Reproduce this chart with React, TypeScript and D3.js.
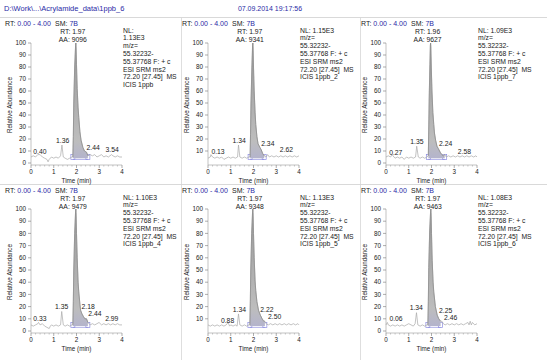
import React from "react";
import * as d3 from "d3";

const TITLE = "D:\\Work\\...\\Acrylamide_data\\1ppb_6";
const DATE = "07.09.2014 19:17:56";
const RANGE = "0.00 - 4.00";
const SMOOTH = "7B";
const X_TICKS = [0, 1, 2, 3, 4];
const Y_TICKS = [0, 10, 20, 30, 40, 50, 60, 70, 80, 90, 100];

const RT_VALUES = [1.97, 1.97, 1.96, 1.97, 1.97, 1.97];
const AREAS = ["9096", "9341", "9627", "9479", "9348", "9463"];
const NL_VALUES = ["1.13E3", "1.15E3", "1.09E3", "1.10E3", "1.13E3", "1.08E3"];
const NL_SPLIT = [true, false, false, false, false, false];
const FILES = ["ICIS 1ppb", "ICIS 1ppb_2", "ICIS 1ppb_7", "ICIS 1ppb_4", "ICIS 1ppb_5", "ICIS 1ppb_6"];
const SHOW_ZERO = [true, false, true, true, false, true];
const INT_START = [1.84, 1.85, 1.86, 1.84, 1.84, 1.84];
const INT_END = [2.5, 2.47, 2.58, 2.5, 2.5, 2.4];

const TRACE_1: [number, number][] = [
  [0, 5], [0.1, 6], [0.2, 5], [0.3, 7], [0.4, 7], [0.5, 5], [0.6, 4], [0.7, 3], [0.75, 1], [0.8, 3], [0.9, 5],
  [1.0, 4], [1.1, 5], [1.2, 4], [1.3, 6], [1.36, 15], [1.42, 5], [1.5, 4], [1.6, 3], [1.7, 4], [1.8, 5],
  [1.84, 5], [1.86, 22], [1.88, 50], [1.92, 80], [1.96, 98], [1.97, 100], [1.98, 97], [2.0, 82], [2.03, 62],
  [2.07, 46], [2.1, 38], [2.15, 26], [2.2, 19], [2.28, 13], [2.35, 10], [2.44, 9], [2.5, 6], [2.6, 7], [2.7, 6],
  [2.8, 7], [2.9, 5], [3.0, 6], [3.1, 7], [3.2, 5], [3.3, 6], [3.4, 5], [3.54, 7], [3.6, 6], [3.7, 5], [3.8, 6],
  [3.9, 5], [4.0, 5],
];
const TRACE_2: [number, number][] = [
  [0, 4], [0.1, 5], [0.13, 7], [0.2, 5], [0.3, 4], [0.4, 5], [0.5, 4], [0.6, 5], [0.7, 3], [0.8, 4], [0.9, 5],
  [1.0, 4], [1.1, 5], [1.2, 4], [1.3, 5], [1.34, 15], [1.4, 5], [1.5, 4], [1.6, 5], [1.7, 4], [1.8, 5],
  [1.85, 5], [1.87, 24], [1.89, 50], [1.93, 80], [1.96, 98], [1.97, 100], [1.98, 97], [2.0, 80], [2.03, 60],
  [2.07, 42], [2.1, 32], [2.15, 22], [2.2, 16], [2.28, 13], [2.34, 11], [2.4, 8], [2.47, 6], [2.55, 5], [2.62, 7],
  [2.7, 5], [2.8, 6], [2.9, 5], [3.0, 6], [3.1, 5], [3.2, 6], [3.3, 5], [3.4, 6], [3.5, 5], [3.6, 6], [3.7, 5],
  [3.8, 6], [3.9, 5], [4.0, 6],
];
const TRACE_3: [number, number][] = [
  [0, 5], [0.1, 6], [0.2, 5], [0.27, 7], [0.35, 5], [0.4, 4], [0.5, 5], [0.6, 4], [0.7, 5], [0.8, 3], [0.9, 5],
  [1.0, 4], [1.1, 5], [1.2, 4], [1.3, 5], [1.35, 14], [1.42, 5], [1.5, 4], [1.6, 5], [1.7, 4], [1.8, 5],
  [1.86, 6], [1.88, 30], [1.9, 55], [1.93, 82], [1.95, 98], [1.96, 100], [1.97, 97], [1.99, 80], [2.02, 60],
  [2.06, 42], [2.1, 32], [2.13, 25], [2.18, 19], [2.24, 14], [2.3, 12], [2.38, 9], [2.45, 7], [2.52, 6], [2.58, 7],
  [2.65, 5], [2.75, 6], [2.85, 5], [2.95, 6], [3.05, 5], [3.15, 6], [3.25, 5], [3.35, 6], [3.45, 5], [3.55, 6],
  [3.65, 5], [3.75, 6], [3.85, 5], [3.95, 6], [4.0, 5],
];
const TRACE_4: [number, number][] = [
  [0, 5], [0.1, 4], [0.2, 5], [0.3, 6], [0.33, 7], [0.4, 5], [0.5, 6], [0.6, 4], [0.7, 3], [0.8, 2], [0.85, 4],
  [0.9, 5], [1.0, 4], [1.1, 5], [1.2, 4], [1.3, 5], [1.35, 16], [1.42, 5], [1.5, 4], [1.6, 5], [1.7, 4], [1.8, 5],
  [1.84, 5], [1.86, 24], [1.88, 50], [1.92, 80], [1.96, 98], [1.97, 100], [1.98, 97], [2.0, 80], [2.03, 60],
  [2.07, 40], [2.1, 32], [2.15, 22], [2.18, 17], [2.24, 14], [2.3, 12], [2.37, 10], [2.44, 10], [2.5, 7], [2.6, 5],
  [2.7, 6], [2.8, 5], [2.9, 6], [2.99, 7], [3.1, 5], [3.2, 6], [3.3, 5], [3.4, 6], [3.5, 5], [3.6, 6], [3.7, 5],
  [3.8, 6], [3.9, 5], [4.0, 5],
];
const TRACE_5: [number, number][] = [
  [0, 5], [0.1, 4], [0.2, 5], [0.3, 4], [0.4, 5], [0.5, 4], [0.6, 5], [0.7, 4], [0.8, 5], [0.88, 7], [0.95, 4],
  [1.0, 5], [1.1, 4], [1.2, 5], [1.28, 4], [1.34, 14], [1.4, 5], [1.5, 4], [1.6, 5], [1.7, 4], [1.8, 5],
  [1.84, 5], [1.86, 24], [1.88, 50], [1.92, 80], [1.96, 98], [1.97, 100], [1.98, 97], [2.0, 80], [2.03, 60],
  [2.07, 41], [2.1, 33], [2.15, 24], [2.22, 17], [2.3, 13], [2.38, 10], [2.45, 8], [2.5, 8], [2.55, 6], [2.65, 5],
  [2.75, 6], [2.85, 5], [2.95, 6], [3.05, 5], [3.15, 6], [3.25, 5], [3.35, 6], [3.45, 5], [3.55, 6], [3.65, 5],
  [3.75, 6], [3.85, 5], [3.95, 6], [4.0, 5],
];
const TRACE_6: [number, number][] = [
  [0, 5], [0.06, 7], [0.1, 5], [0.2, 4], [0.3, 5], [0.4, 4], [0.5, 5], [0.6, 4], [0.7, 5], [0.8, 4], [0.9, 5],
  [1.0, 6], [1.1, 5], [1.2, 4], [1.28, 6], [1.34, 15], [1.4, 5], [1.5, 4], [1.6, 5], [1.7, 4], [1.8, 5],
  [1.84, 5], [1.86, 24], [1.88, 52], [1.92, 82], [1.96, 98], [1.97, 100], [1.98, 97], [2.0, 80], [2.03, 58],
  [2.07, 40], [2.1, 32], [2.17, 20], [2.25, 13], [2.32, 10], [2.4, 8], [2.46, 8], [2.52, 6], [2.6, 5], [2.7, 6],
  [2.8, 5], [2.9, 6], [3.0, 5], [3.1, 6], [3.2, 5], [3.3, 6], [3.4, 5], [3.5, 6], [3.6, 7], [3.65, 5], [3.7, 8],
  [3.75, 5], [3.8, 7], [3.9, 5], [4.0, 6],
];
const TRACES = [TRACE_1, TRACE_2, TRACE_3, TRACE_4, TRACE_5, TRACE_6];

type PeakLabel = { text: string; t: number; v: number };
const LABELS_1: PeakLabel[] = [
  { text: "0.40", t: 0.39, v: 10 }, { text: "1.36", t: 1.39, v: 19 },
  { text: "2.44", t: 2.73, v: 13 }, { text: "3.54", t: 3.57, v: 11 },
];
const LABELS_2: PeakLabel[] = [
  { text: "0.13", t: 0.44, v: 10 }, { text: "1.34", t: 1.37, v: 19 },
  { text: "2.34", t: 2.63, v: 16 }, { text: "2.62", t: 3.45, v: 11 },
];
const LABELS_3: PeakLabel[] = [
  { text: "0.27", t: 0.43, v: 9 }, { text: "1.35", t: 1.36, v: 18 },
  { text: "2.24", t: 2.62, v: 16 }, { text: "2.58", t: 3.45, v: 10 },
];
const LABELS_4: PeakLabel[] = [
  { text: "0.33", t: 0.39, v: 10 }, { text: "1.35", t: 1.35, v: 20 },
  { text: "2.18", t: 2.51, v: 20 }, { text: "2.44", t: 2.81, v: 14 }, { text: "2.99", t: 3.55, v: 10 },
];
const LABELS_5: PeakLabel[] = [
  { text: "0.88", t: 0.86, v: 9 }, { text: "1.34", t: 1.38, v: 18 },
  { text: "2.22", t: 2.59, v: 18 }, { text: "2.50", t: 2.93, v: 12 },
];
const LABELS_6: PeakLabel[] = [
  { text: "0.06", t: 0.44, v: 10 }, { text: "1.34", t: 1.33, v: 19 },
  { text: "2.25", t: 2.62, v: 17 }, { text: "2.46", t: 2.84, v: 11 },
];
const LABELS = [LABELS_1, LABELS_2, LABELS_3, LABELS_4, LABELS_5, LABELS_6];

const W = 547;
const H = 360;
const FONT = "'Liberation Sans', Arial, sans-serif";
const BLUE = "#2a2aa6";
const TEXT = "#1a1a1a";
const COL_DX = [0, 177, 355];
const ROW_DY = [0, 167];
const ROW_Y = [[163, 43], [331, 209]];

function Panel({ i }: { i: number }) {
  const col = i % 3;
  const row = Math.floor(i / 3);
  const dx = COL_DX[col];
  const dy = ROW_DY[row];
  const x = d3.scaleLinear().domain([0, 4]).range([31 + dx, 122 + dx]);
  const y = d3.scaleLinear().domain([0, 100]).range(ROW_Y[row]);
  const data = TRACES[i];
  const line = d3.line<[number, number]>().x((d) => x(d[0])).y((d) => y(d[1]));
  const peakPts = data.filter((d) => d[0] >= INT_START[i] && d[0] <= INT_END[i]);
  const area = d3.area<[number, number]>().x((d) => x(d[0])).y0(y(4)).y1((d) => y(d[1]));
  const x0 = x(0);
  const x1 = x(4);
  const axisY = y(0) + 2;
  const minor = x.ticks(20).filter((t) => !X_TICKS.includes(t));
  const nlLines = NL_SPLIT[i] ? ["NL:", NL_VALUES[i]] : ["NL: " + NL_VALUES[i]];
  const info = [...nlLines, "m/z=", "55.32232-", "55.37768 F: + c", "ESI SRM ms2", "72.20 [27.45]  MS", FILES[i]];
  const gid = "g" + i;
  const rtX = x(RT_VALUES[i]) - 3;
  const hx = 5 + dx + (col === 2 ? 1 : 0);
  return (
    <g>
      <defs>
        <linearGradient id={gid} x1="0" y1="0" x2="0" y2="1">
          <stop offset="0%" stopColor="#979797" />
          <stop offset="85%" stopColor="#bdbdbd" />
          <stop offset="100%" stopColor="#b4b4cc" />
        </linearGradient>
      </defs>
      <text x={hx} y={25.5 + dy} fontSize={7} fill={TEXT}>
        RT: <tspan fill={BLUE}>{RANGE}</tspan>
      </text>
      <text x={hx + 50} y={25.5 + dy} fontSize={7} fill={TEXT}>
        SM: <tspan fill={BLUE}>{SMOOTH}</tspan>
      </text>
      <text x={rtX} y={33.5 + dy} fontSize={6.8} fill={TEXT} textAnchor="middle">
        RT: {RT_VALUES[i].toFixed(2)}
      </text>
      <text x={rtX} y={41.5 + dy} fontSize={6.8} fill={TEXT} textAnchor="middle">
        AA: {AREAS[i]}
      </text>
      {info.map((s, k) => (
        <text key={k} x={x1 + 1} y={32.5 + dy + k * 7.8} fontSize={6.8} fill={TEXT} style={{ whiteSpace: "pre" }}>
          {s}
        </text>
      ))}
      <rect x={x(INT_START[i]) - 2} y={y(5) - 2.5} width={4} height={5} fill="none" stroke="#8c8ce0" strokeWidth={0.7} />
      <rect x={x(INT_END[i]) - 2} y={y(5) - 2.5} width={4} height={5} fill="none" stroke="#8c8ce0" strokeWidth={0.7} />
      <line x1={x(INT_START[i])} x2={x(INT_END[i])} y1={y(3)} y2={y(3)} stroke="#8c8ce0" strokeWidth={0.7} />
      <path d={area(peakPts) || ""} fill={`url(#${gid})`} stroke="none" />
      <path d={line(data) || ""} fill="none" stroke="#a8a8a8" strokeWidth={0.7} />
      <path d={line(peakPts) || ""} fill="none" stroke="#8a8a8a" strokeWidth={0.7} />
      {LABELS[i].map((l, k) => (
        <text key={k} x={x(l.t)} y={y(l.v) + 2.5} fontSize={6.8} fill={TEXT} textAnchor="middle">
          {l.text}
        </text>
      ))}
      <line x1={x0} x2={x0} y1={axisY} y2={y(100)} stroke="#9a9a9a" strokeWidth={0.6} />
      {Y_TICKS.filter((t) => t > 0 || SHOW_ZERO[i]).map((t) => (
        <g key={t}>
          <line x1={x0 - 3} x2={x0} y1={y(t)} y2={y(t)} stroke="#777" strokeWidth={0.6} />
          <text x={x0 - 5} y={y(t) + 2.2} fontSize={6.3} fill={TEXT} textAnchor="end">
            {t}
          </text>
        </g>
      ))}
      <line x1={x0} x2={x1} y1={axisY} y2={axisY} stroke="#9a9a9a" strokeWidth={0.6} />
      {X_TICKS.map((t) => (
        <g key={t}>
          <line x1={x(t)} x2={x(t)} y1={axisY} y2={axisY + 3} stroke="#777" strokeWidth={0.6} />
          <text x={x(t)} y={axisY + 9} fontSize={6.3} fill={TEXT} textAnchor="middle">
            {t}
          </text>
        </g>
      ))}
      {minor.map((t) => (
        <line key={t} x1={x(t)} x2={x(t)} y1={axisY} y2={axisY + 1.6} stroke="#999" strokeWidth={0.5} />
      ))}
      <text x={(x0 + x1) / 2} y={axisY + 18} fontSize={6.3} fill={TEXT} textAnchor="middle">
        Time (min)
      </text>
      <text
        transform={`translate(${x0 - 19},${(y(0) + y(100)) / 2 + 2}) rotate(-90)`}
        fontSize={6.3}
        fill={TEXT}
        textAnchor="middle"
      >
        Relative Abundance
      </text>
    </g>
  );
}

export default function App() {
  return (
    <svg
      width={W}
      height={H}
      viewBox={`0 0 ${W} ${H}`}
      style={{ position: "absolute", left: 0, top: 0, background: "#fff" }}
      fontFamily={FONT}
    >
      <rect x={0} y={0} width={W} height={H} fill="#fff" />
      <text x={4} y={10.5} fontSize={7.5} fill={BLUE}>
        {TITLE}
      </text>
      <text x={270} y={10.5} fontSize={7} fill={BLUE} textAnchor="middle">
        {DATE}
      </text>
      <line x1={0} x2={W} y1={17.5} y2={17.5} stroke="#cfcfcf" strokeWidth={0.8} />
      <line x1={0} x2={W} y1={184.5} y2={184.5} stroke="#cfcfcf" strokeWidth={0.8} />
      <line x1={181.5} x2={181.5} y1={17.5} y2={H} stroke="#d6d6d6" strokeWidth={0.8} />
      <line x1={360.5} x2={360.5} y1={17.5} y2={H} stroke="#d6d6d6" strokeWidth={0.8} />
      {[0, 1, 2, 3, 4, 5].map((i) => (
        <Panel key={i} i={i} />
      ))}
    </svg>
  );
}
